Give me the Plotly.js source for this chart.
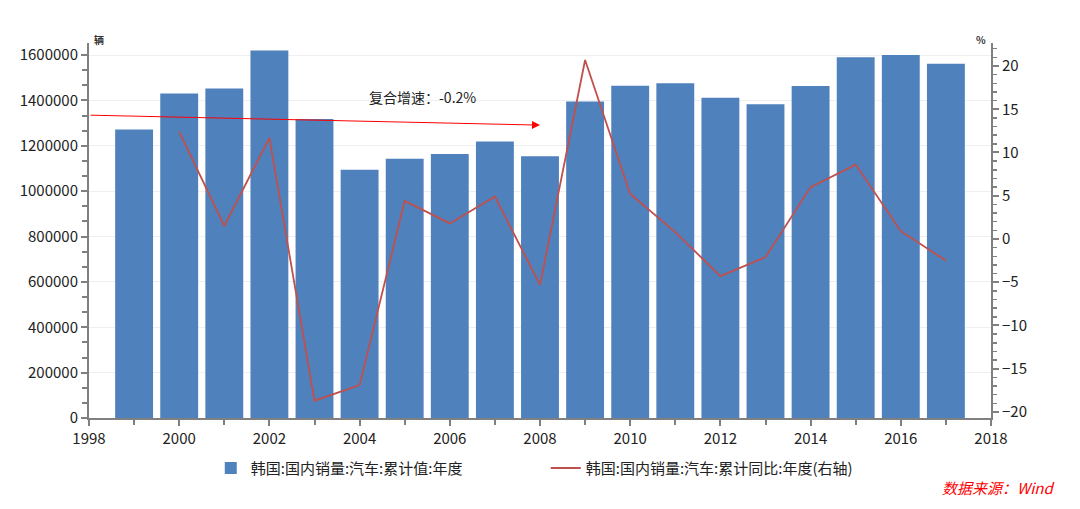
<!DOCTYPE html>
<html>
<head>
<meta charset="utf-8">
<script src="https://cdn.plot.ly/plotly-3.0.1.min.js"></script>
<style>html,body{margin:0;padding:0;background:#fff;}#chart{width:1080px;height:509px;}</style>
</head>
<body>
<div id="chart"></div>
<script>
const years = [1999,2000,2001,2002,2003,2004,2005,2006,2007,2008,2009,2010,2011,2012,2013,2014,2015,2016,2017];
const salesValues = [1272000,1430000,1452000,1620000,1318000,1094000,1143000,1164000,1219000,1154000,1395000,1465000,1476000,1412000,1383000,1463000,1590000,1600000,1562000];
const growthYears = [2000,2001,2002,2003,2004,2005,2006,2007,2008,2009,2010,2011,2012,2013,2014,2015,2016,2017];
const growthValues = [12.4,1.5,11.7,-18.7,-16.9,4.4,1.8,4.9,-5.3,20.7,5.2,0.8,-4.3,-2.1,6.0,8.6,0.9,-2.5];
const barName = '韩国:国内销量:汽车:累计值:年度';
const lineName = '韩国:国内销量:汽车:累计同比:年度(右轴)';
const cagrText = '复合增速：-0.2%';
const sourceText = '数据来源：Wind';

const font = 'Noto Sans CJK SC, Noto Sans, sans-serif';
const axisColor = '#808080';

const data = [
  {type:'bar', x:years, y:salesValues, name:barName, width:0.84,
   marker:{color:'#4F81BD'}, yaxis:'y'},
  {type:'scatter', mode:'lines', x:growthYears, y:growthValues, name:lineName,
   line:{color:'#C0504D', width:1.8}, yaxis:'y2'}
];

const layout = {
  width:1080, height:509,
  margin:{l:89, r:89, t:43, b:91},
  paper_bgcolor:'#fff', plot_bgcolor:'#fff',
  font:{family:font, size:14, color:'#222'},
  bargap:0.16,
  showlegend:true,
  legend:{orientation:'h', x:0.135, y:-0.09, xanchor:'left', yanchor:'top',
          font:{size:15, color:'#222'}, entrywidth:290, itemwidth:30},
  xaxis:{range:[1998,2018], dtick:2, tick0:1998, showgrid:false, zeroline:false,
         showline:true, linecolor:axisColor, linewidth:2, ticks:'outside', ticklen:6,
         tickcolor:axisColor, tickwidth:2, tickfont:{size:15},
         minor:{dtick:1, ticks:'outside', ticklen:5, tickcolor:axisColor, tickwidth:2, showgrid:false}},
  yaxis:{range:[0,1653000], dtick:200000, showgrid:true, gridcolor:'#efefef', zeroline:false,
         showline:true, linecolor:axisColor, linewidth:2, ticks:'outside', ticklen:6,
         tickcolor:axisColor, tickwidth:2, tickfont:{size:15}, tickformat:'d',
         minor:{dtick:200000/3, ticks:'outside', ticklen:5, tickcolor:axisColor, tickwidth:2, showgrid:false}},
  yaxis2:{range:[-20.7,22.66], dtick:5, overlaying:'y', side:'right', showgrid:false, zeroline:false,
          showline:true, linecolor:axisColor, linewidth:2, ticks:'outside', ticklen:6,
          tickcolor:axisColor, tickwidth:2, tickfont:{size:15},
          minor:{dtick:1, ticks:'outside', ticklen:4, tickcolor:axisColor, tickwidth:1.5, showgrid:false}},
  annotations:[
    {xref:'x', yref:'y', x:2008, y:1291000, axref:'x', ayref:'y', ax:1998, ay:1335000,
     showarrow:true, arrowhead:2, arrowsize:1.6, arrowwidth:1, arrowcolor:'#FF0000', text:'', standoff:0},
    {xref:'x', yref:'y', x:2005.4, y:1415000, text:cagrText, showarrow:false,
     font:{size:14, color:'#222'}},
    {xref:'paper', yref:'paper', x:0.003, y:1.0, xanchor:'left', yanchor:'bottom', text:'<b>辆</b>',
     showarrow:false, font:{size:10, color:'#333'}, yshift:-6},
    {xref:'paper', yref:'paper', x:0.997, y:1.0, xanchor:'right', yanchor:'bottom', text:'<b>%</b>',
     showarrow:false, font:{size:10, color:'#333'}, yshift:-6},
    {xref:'paper', yref:'paper', x:1.072, y:-0.185, xanchor:'right', yanchor:'middle', text:'<i>'+sourceText+'</i>',
     showarrow:false, font:{size:15, color:'#FF0000'}}
  ]
};

Plotly.newPlot('chart', data, layout, {displayModeBar:false, staticPlot:true});
</script>
</body>
</html>
